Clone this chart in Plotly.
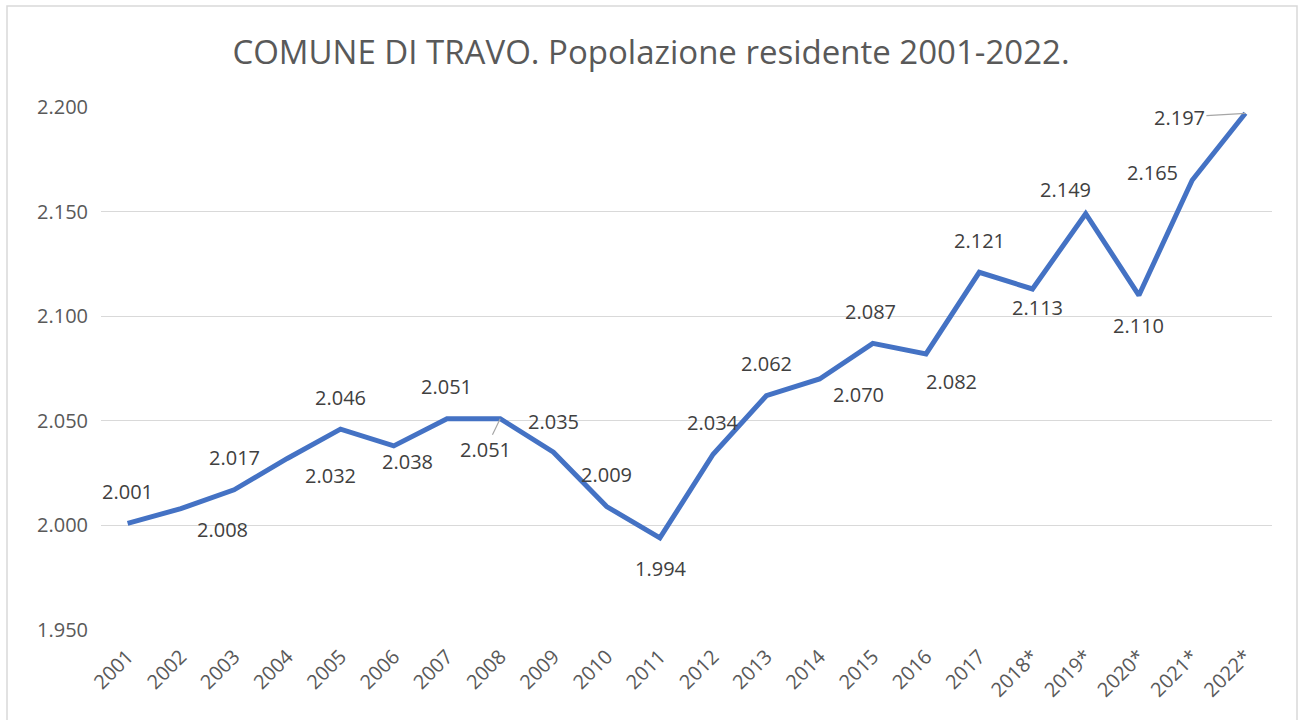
import plotly.graph_objects as go

years = ["2001", "2002", "2003", "2004", "2005", "2006", "2007", "2008", "2009", "2010",
         "2011", "2012", "2013", "2014", "2015", "2016", "2017", "2018*", "2019*", "2020*",
         "2021*", "2022*"]
population = [2001, 2008, 2017, 2032, 2046, 2038, 2051, 2051, 2035, 2009,
              1994, 2034, 2062, 2070, 2087, 2082, 2121, 2113, 2149, 2110,
              2165, 2197]
y_ticks = [1950, 2000, 2050, 2100, 2150, 2200]
y_tick_labels = ["1.950", "2.000", "2.050", "2.100", "2.150", "2.200"]

# label placement offsets (pixels: dx right, dy down)
label_dx = [0, 42, 0, 43, 0, 14, 0, -15, 0, 0, 1, 0, 0, 39, -2, 25, 0, 5, -20, 0, -40, -66]
label_dy = [-32, 21, -32, 17, -32, 16, -32, 31, -31, -32, 31, -32, -32, 16, -32, 28, -32, 18, -24, 30, -8, 4]
leader = [False] * 22
leader[7] = True
leader[21] = True

def fmt(v):
    return f"{v:,}".replace(",", ".")

W, H = 1302, 720
L, R, T, B = 101, 30, 107, 90
pw, ph = W - L - R, H - T - B

fig = go.Figure()
fig.add_trace(go.Scatter(
    x=years, y=population, mode="lines",
    line=dict(color="#4472C4", width=5),
    hoverinfo="x+y", showlegend=False,
))

label_font = dict(family="Open Sans", size=20, color="#404040")
annotations = []
for i, v in enumerate(population):
    if leader[i]:
        annotations.append(dict(
            x=i, y=v, xref="x", yref="y", text=fmt(v),
            showarrow=True, arrowhead=0, arrowwidth=1.2, arrowcolor="#a6a6a6",
            ax=label_dx[i], ay=label_dy[i], font=label_font,
        ))
    else:
        annotations.append(dict(
            x=i, y=v, xref="x", yref="y", text=fmt(v), showarrow=False,
            xshift=label_dx[i], yshift=-label_dy[i], font=label_font,
        ))

def px_to_paper_x(px):
    return (px - L) / pw

def px_to_paper_y(py):
    return (H - B - py) / ph

fig.update_layout(
    width=W, height=H,
    margin=dict(l=L, r=R, t=T, b=B),
    paper_bgcolor="white", plot_bgcolor="white",
    title=dict(
        text="COMUNE DI TRAVO. Popolazione residente 2001-2022.",
        x=0.5, xanchor="center", xref="container",
        y=1 - 52 / H, yanchor="middle", yref="container",
        font=dict(family="Open Sans", size=33, color="#595959"),
    ),
    xaxis=dict(
        type="category", range=[-0.5, 21.5],
        showgrid=False, showline=False, zeroline=False,
        ticks="", tickangle=-45, ticklabelstandoff=10,
        tickfont=dict(family="Open Sans", size=20, color="#595959"),
    ),
    yaxis=dict(
        range=[1950, 2200], tickvals=y_ticks, ticktext=y_tick_labels,
        showgrid=True, gridcolor="#d9d9d9", gridwidth=1.3,
        zeroline=False, showline=False, ticks="", ticklabelstandoff=12,
        tickfont=dict(family="Open Sans", size=20, color="#595959"),
    ),
    annotations=annotations,
    shapes=[dict(
        type="rect", xref="paper", yref="paper",
        x0=px_to_paper_x(7), x1=px_to_paper_x(1297),
        y0=px_to_paper_y(730), y1=px_to_paper_y(6),
        line=dict(color="#d9d9d9", width=1.5), fillcolor="rgba(0,0,0,0)", layer="below",
    )],
)

fig.write_html("out.html", config={"displayModeBar": False},
               post_script="document.body.style.margin='0';")
